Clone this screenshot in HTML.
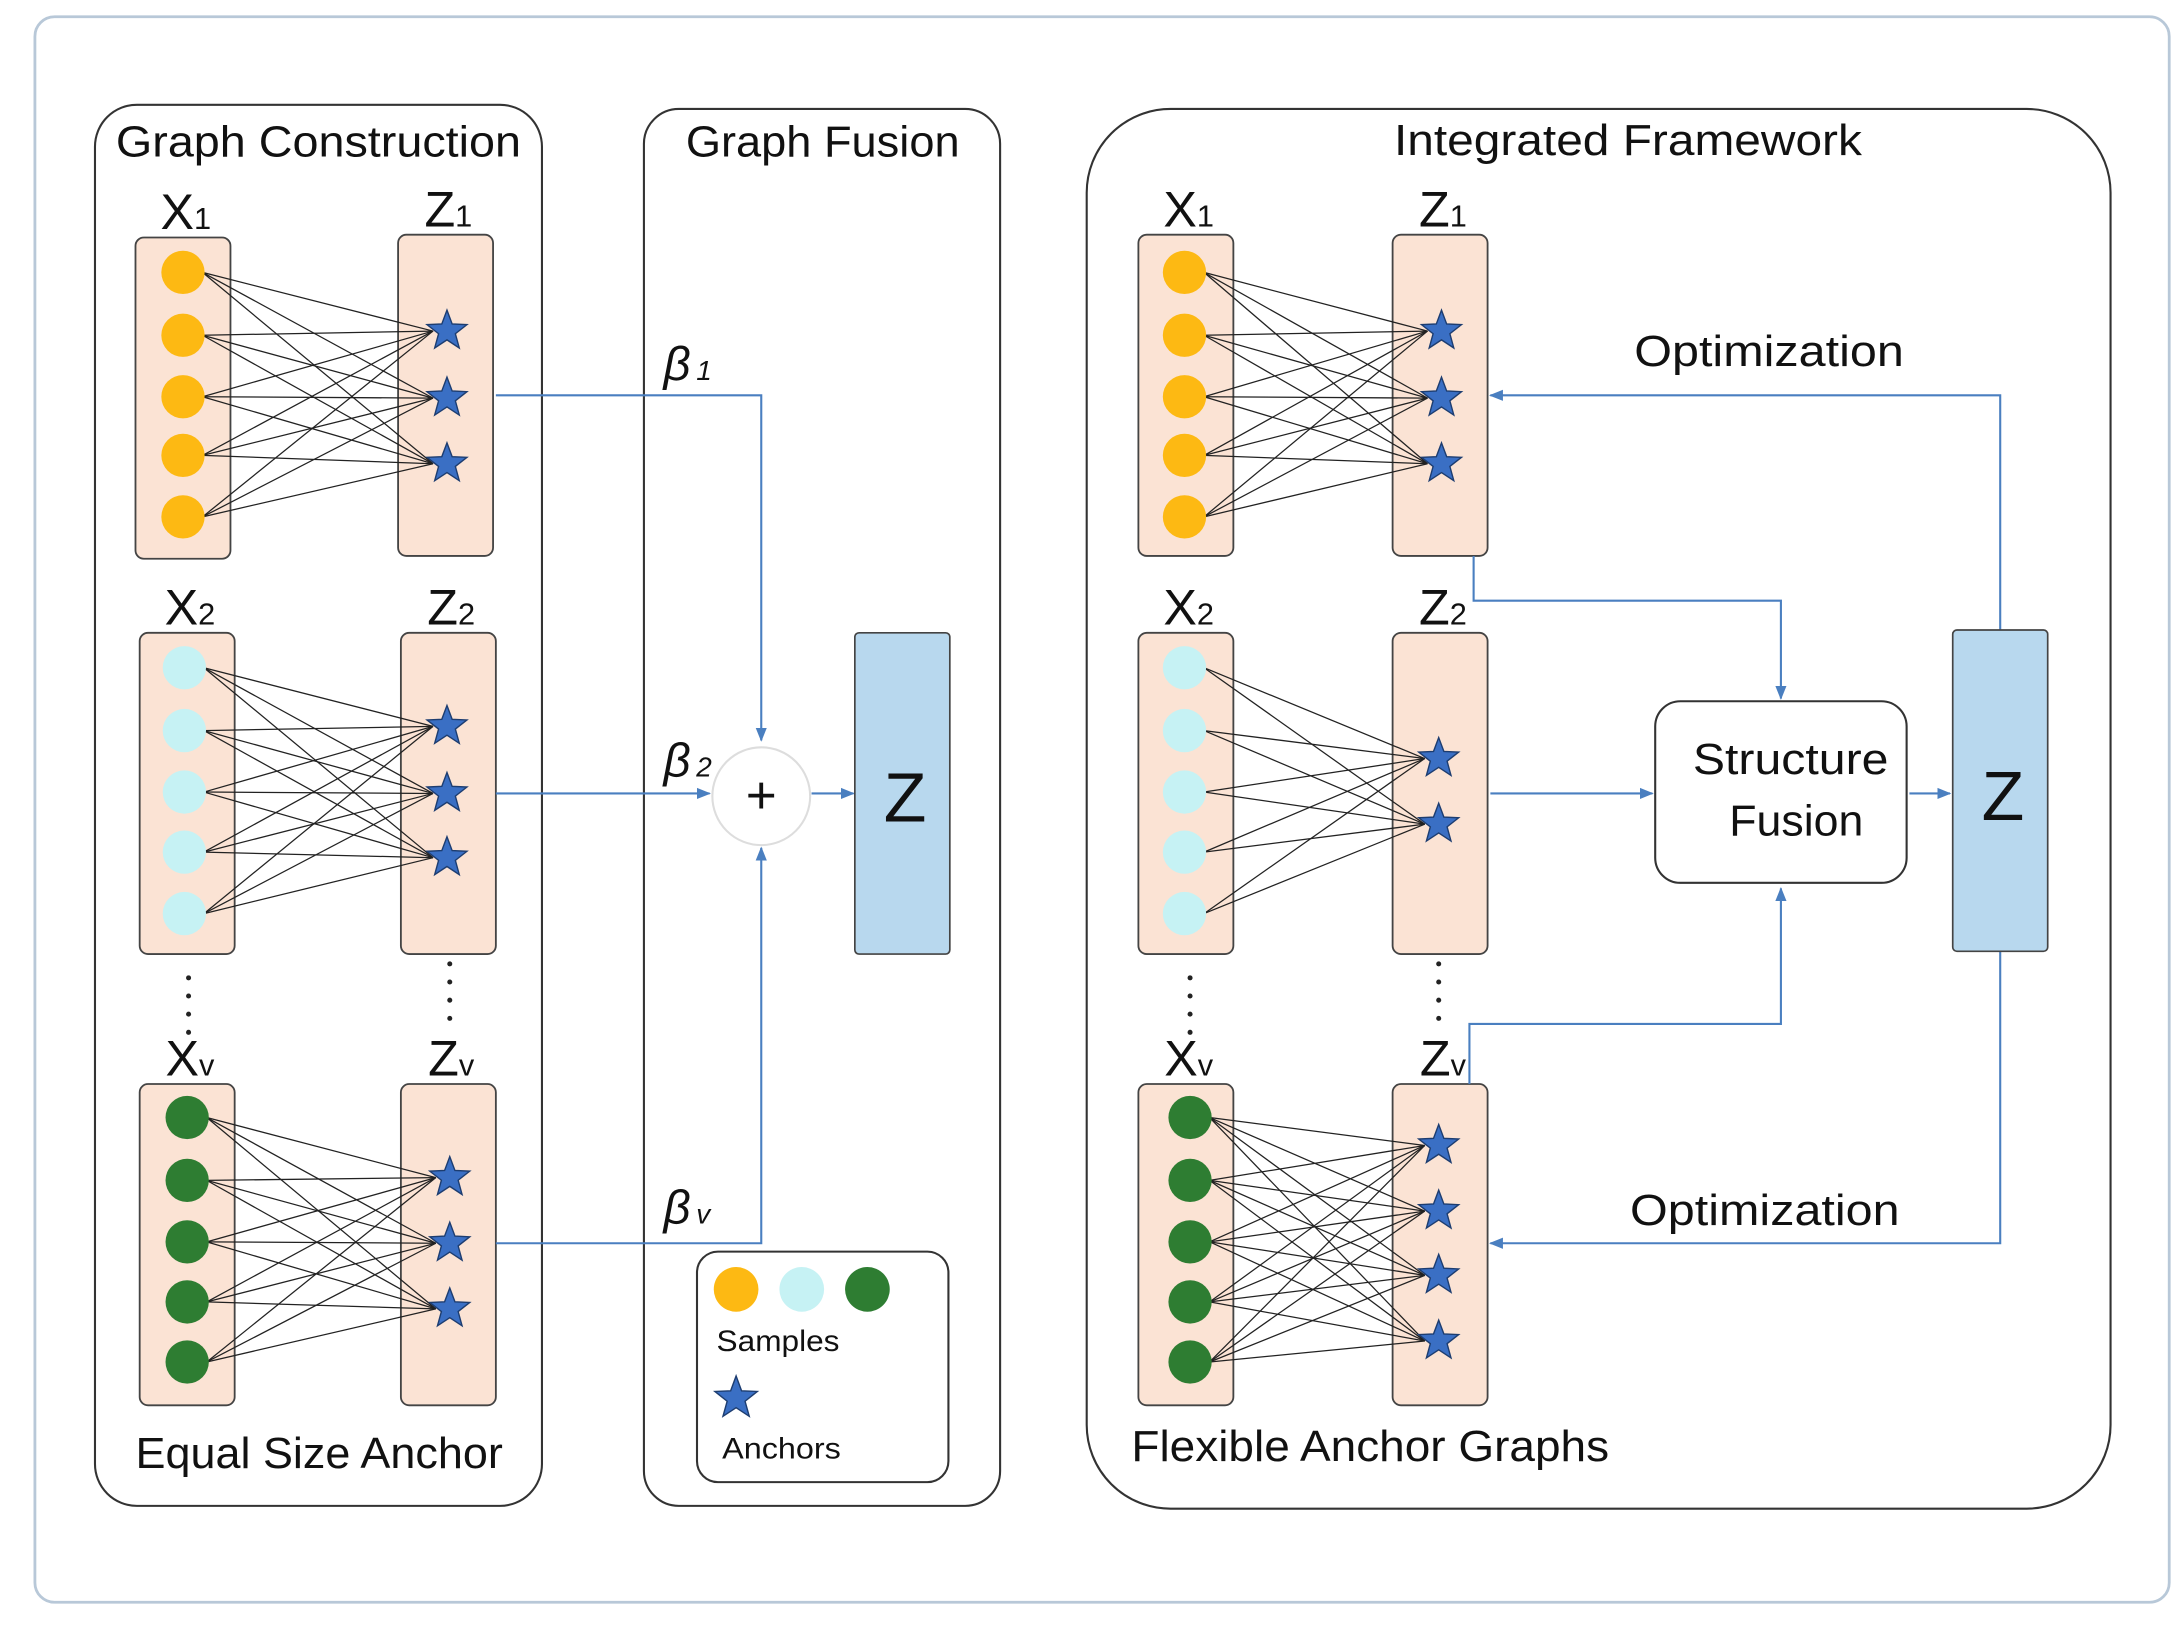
<!DOCTYPE html>
<html><head><meta charset="utf-8">
<style>
html,body{margin:0;padding:0;background:#fff;}
svg{display:block;}
text{font-family:"Liberation Sans","DejaVu Sans",sans-serif;fill:#111;}
</style></head>
<body>
<svg id="s" width="2179" height="1626" viewBox="0 0 1560 1164" preserveAspectRatio="none" xmlns="http://www.w3.org/2000/svg">
<defs>
<marker id="ar" markerWidth="10" markerHeight="10" refX="9" refY="5" orient="auto" markerUnits="userSpaceOnUse">
<path d="M0,1 L10,5 L0,9 z" fill="#4a7fc0"/></marker>
</defs>
<rect x="0" y="0" width="1560" height="1164" fill="#fff"/>
<rect x="25" y="12" width="1528" height="1135" rx="14" fill="none" stroke="#b8c8d8" stroke-width="2"/>
<rect x="68" y="75" width="320" height="1003" rx="30" fill="none" stroke="#333" stroke-width="1.5"/>
<rect x="461" y="78" width="255" height="1000" rx="25" fill="none" stroke="#333" stroke-width="1.5"/>
<rect x="778" y="78" width="733" height="1002" rx="60" fill="none" stroke="#333" stroke-width="1.5"/>

<text x="83" y="112" font-size="31" textLength="290" lengthAdjust="spacingAndGlyphs">Graph Construction</text>
<text x="491" y="112" font-size="31" textLength="196" lengthAdjust="spacingAndGlyphs">Graph Fusion</text>
<text x="998" y="111" font-size="31" textLength="335" lengthAdjust="spacingAndGlyphs">Integrated Framework</text>
<text x="97" y="1051" font-size="31" textLength="263" lengthAdjust="spacingAndGlyphs">Equal Size Anchor</text>
<text x="810" y="1046" font-size="31" textLength="342" lengthAdjust="spacingAndGlyphs">Flexible Anchor Graphs</text>

<g id="graphs"></g>

<g stroke="#4a7fc0" stroke-width="1.5" fill="none">
<path d="M355,283 H545 V530" marker-end="url(#ar)"/>
<path d="M355,568 H508" marker-end="url(#ar)"/>
<path d="M355,890 H545 V607" marker-end="url(#ar)"/>
<path d="M581,568 H611" marker-end="url(#ar)"/>
</g>
<circle cx="545" cy="570" r="35" fill="#fff" stroke="#ddd" stroke-width="1.5"/>
<text x="545" y="582" font-size="38" text-anchor="middle">+</text>
<rect x="612" y="453" width="68" height="230" rx="3" fill="#b8d8ee" stroke="#444" stroke-width="1.2"/>
<text x="648" y="588" font-size="50" text-anchor="middle">Z</text>
<text x="475" y="272" font-size="34" font-style="italic" font-family="Liberation Serif">β<tspan font-size="20" dx="4">1</tspan></text>
<text x="475" y="556" font-size="34" font-style="italic" font-family="Liberation Serif">β<tspan font-size="20" dx="4">2</tspan></text>
<text x="475" y="876" font-size="34" font-style="italic" font-family="Liberation Serif">β<tspan font-size="20" dx="4">v</tspan></text>

<rect x="499" y="896" width="180" height="165" rx="15" fill="#fff" stroke="#333" stroke-width="1.5"/>
<circle cx="527" cy="923" r="16" fill="#fdb913"/>
<circle cx="574" cy="923" r="16" fill="#c6f2f4"/>
<circle cx="621" cy="923" r="16" fill="#2e7d32"/>
<text x="513" y="967" font-size="21" textLength="88" lengthAdjust="spacingAndGlyphs">Samples</text>
<g id="legstar"></g>
<text x="517" y="1044" font-size="21" textLength="85" lengthAdjust="spacingAndGlyphs">Anchors</text>

<g stroke="#4a7fc0" stroke-width="1.5" fill="none">
<path d="M1055,398 V430 H1275 V500" marker-end="url(#ar)"/>
<path d="M1052,776 V733 H1275 V636" marker-end="url(#ar)"/>
<path d="M1067,568 H1183" marker-end="url(#ar)"/>
<path d="M1367,568 H1396" marker-end="url(#ar)"/>
<path d="M1432,451 V283 H1067" marker-end="url(#ar)"/>
<path d="M1432,681 V890 H1067" marker-end="url(#ar)"/>
</g>
<rect x="1185" y="502" width="180" height="130" rx="18" fill="#fff" stroke="#333" stroke-width="1.5"/>
<text x="1212" y="554" font-size="31" textLength="140" lengthAdjust="spacingAndGlyphs">Structure</text>
<text x="1238" y="598" font-size="31" textLength="96" lengthAdjust="spacingAndGlyphs">Fusion</text>
<rect x="1398" y="451" width="68" height="230" rx="3" fill="#b8d8ee" stroke="#444" stroke-width="1.2"/>
<text x="1434" y="587" font-size="50" text-anchor="middle">Z</text>
<text x="1170" y="262" font-size="31" textLength="193" lengthAdjust="spacingAndGlyphs">Optimization</text>
<text x="1167" y="877" font-size="31" textLength="193" lengthAdjust="spacingAndGlyphs">Optimization</text>
</svg>
<script>
var NS="http://www.w3.org/2000/svg",g=document.getElementById("graphs");
function el(t,a,p){var e=document.createElementNS(NS,t);for(var k in a)e.setAttribute(k,a[k]);(p||g).appendChild(e);return e;}
function star(cx,cy,r,p){var pts=[];for(var i=0;i<10;i++){var rr=i%2?r*0.42:r,a=-Math.PI/2+i*Math.PI/5;pts.push((cx+rr*Math.cos(a)).toFixed(1)+","+(cy+rr*Math.sin(a)).toFixed(1));}
el("polygon",{points:pts.join(" "),fill:"#3a6fc4",stroke:"#1d3d70","stroke-width":"1"},p);}
function lab(x,y,L,sub){var t=el("text",{x:x,y:y,"font-size":"36","text-anchor":"middle"});t.textContent=L;var s=el("tspan",{"font-size":"22"},t);s.textContent=sub;}
function grp(xr,zr,cx,cys,col,sx,sys,xl,zl,sub){
el("rect",{x:xr[0],y:xr[1],width:68,height:230,rx:6,fill:"#fbe3d4",stroke:"#444","stroke-width":"1.3"});
el("rect",{x:zr[0],y:zr[1],width:68,height:230,rx:6,fill:"#fbe3d4",stroke:"#444","stroke-width":"1.3"});
cys.forEach(function(cy){sys.forEach(function(sy){el("line",{x1:cx+14,y1:cy,x2:sx-10,y2:sy,stroke:"#222","stroke-width":"0.9"});});});
cys.forEach(function(cy){el("circle",{cx:cx,cy:cy,r:15.5,fill:col});});
sys.forEach(function(sy){star(sx,sy,15);});
lab(xr[0]+36,xr[1]-6,xl,sub);lab(zr[0]+36,zr[1]-6,zl,sub);}
var Y="#fdb913",C="#c6f2f4",G="#2e7d32";
grp([97,170],[285,168],131,[195,240,284,326,370],Y,320,[237,285,332],"X","Z","1");
grp([100,453],[287,453],132,[478,523,567,610,654],C,320,[520,568,614],"X","Z","2");
grp([100,776],[287,776],134,[800,845,889,932,975],G,322,[843,890,937],"X","Z","v");
grp([815,168],[997,168],848,[195,240,284,326,370],Y,1032,[237,285,332],"X","Z","1");
grp([815,453],[997,453],848,[478,523,567,610,654],C,1030,[543,590],"X","Z","2");
grp([815,776],[997,776],852,[800,845,889,932,975],G,1030,[820,867,913,960],"X","Z","v");
[[135,700],[322,690],[852,700],[1030,690]].forEach(function(p){for(var i=0;i<4;i++)el("circle",{cx:p[0],cy:p[1]+i*13,r:1.8,fill:"#222"});});
star(527,1001,16,document.getElementById("legstar"));
</script>
</body></html>
